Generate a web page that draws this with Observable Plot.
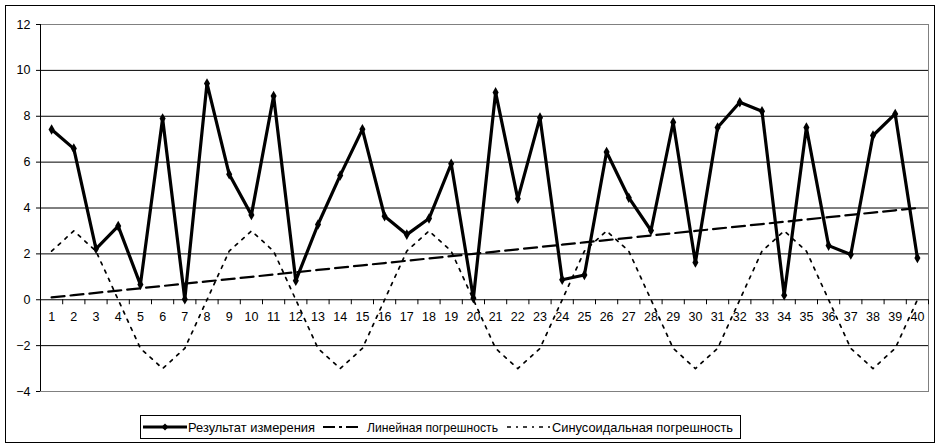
<!DOCTYPE html>
<html>
<head>
<meta charset="utf-8">
<script src="https://cdn.jsdelivr.net/npm/d3@7"></script>
<script src="https://cdn.jsdelivr.net/npm/@observablehq/plot@0.6"></script>
<style>
  html, body { margin: 0; padding: 0; background: #fff; }
  #wrap { position: relative; width: 941px; height: 448px; font-family: "Liberation Sans", Arial, sans-serif; }
  #chart { position: absolute; left: 0; top: 0; }
  #border { position: absolute; left: 5px; top: 5px; width: 930px; height: 438px; box-sizing: border-box; border: 1px solid #000; pointer-events: none; }
  #legend { position: absolute; left: 139px; top: 414px; }
</style>
</head>
<body>
<div id="wrap">
  <div id="chart"></div>
  <div id="border"></div>
  <div id="legend"></div>
</div>
<script>
const categories = [1,2,3,4,5,6,7,8,9,10,11,12,13,14,15,16,17,18,19,20,21,22,23,24,25,26,27,28,29,30,31,32,33,34,35,36,37,38,39,40];
const measured = [7.42,6.59,2.22,3.21,0.66,7.90,0.02,9.43,5.47,3.70,8.88,0.83,3.28,5.42,7.43,3.64,2.84,3.54,5.93,0.07,9.04,4.40,7.94,0.87,1.08,6.44,4.45,3.02,7.74,1.62,7.51,8.61,8.22,0.20,7.51,2.36,1.97,7.16,8.10,1.82];
const linearErr = [0.1,0.2,0.3,0.4,0.5,0.6,0.7,0.8,0.9,1.0,1.1,1.2,1.3,1.4,1.5,1.6,1.7,1.8,1.9,2.0,2.1,2.2,2.3,2.4,2.5,2.6,2.7,2.8,2.9,3.0,3.1,3.2,3.3,3.4,3.5,3.6,3.7,3.8,3.9,4.0];
const sineErr = [2.12,3,2.12,0,-2.12,-3,-2.12,0, 2.12,3,2.12,0,-2.12,-3,-2.12,0, 2.12,3,2.12,0,-2.12,-3,-2.12,0, 2.12,3,2.12,0,-2.12,-3,-2.12,0, 2.12,3,2.12,0,-2.12,-3,-2.12,0];
const yTicks = [-4,-2,0,2,4,6,8,10,12];
const seriesNames = ["Результат измерения", "Линейная погрешность", "Синусоидальная погрешность"];

const rows = (vals) => categories.map((c, i) => ({x: c, y: vals[i]}));
const gridVals = yTicks.filter(v => v !== yTicks[0] && v !== yTicks[yTicks.length - 1] && v !== 0);
const boundaries = categories.map(c => c + 0.5);

const chart = Plot.plot({
  width: 941,
  height: 405,
  marginLeft: 40,
  marginRight: 13,
  marginTop: 24,
  marginBottom: 14,
  style: { fontFamily: '"Liberation Sans", Arial, sans-serif', fontSize: "12px", color: "#000", background: "none" },
  x: { type: "linear", domain: [categories[0] - 0.5, categories[categories.length - 1] + 0.5], axis: null },
  y: { domain: [yTicks[0], yTicks[yTicks.length - 1]], axis: null },
  marks: [
    Plot.ruleY(gridVals, { stroke: "#000", strokeWidth: 1 }),
    Plot.frame({ stroke: "#808080", strokeWidth: 1 }),
    Plot.ruleY([0], { stroke: "#000", strokeWidth: 1 }),
    Plot.ruleX([categories[0] - 0.5], { stroke: "#000", strokeWidth: 1 }),
    Plot.axisY({ ticks: yTicks, label: null, tickSize: 4, tickPadding: 6, fontSize: 12.5, stroke: "#000", fill: "#000" }),
    Plot.ruleX(boundaries, { x: d => d, y1: () => 0, y2: () => 0, insetBottom: -5, stroke: "#000", strokeWidth: 1 }),
    Plot.text(categories, { x: d => d, y: () => 0, dy: 17, text: d => String(d), fontSize: 12.5, fill: "#000" }),
    Plot.line(rows(sineErr), { x: "x", y: "y", stroke: "#000", strokeWidth: 1.7, strokeDasharray: "3,6" }),
    Plot.line(rows(linearErr), { x: "x", y: "y", stroke: "#000", strokeWidth: 2.2, strokeDasharray: "13,6" }),
    Plot.line(rows(measured), { x: "x", y: "y", stroke: "#000", strokeWidth: 3.2 }),
    Plot.dot(rows(measured), { x: "x", y: "y", symbol: "diamond", r: 3.2, fill: "#000", stroke: "none" })
  ]
});
document.getElementById("chart").appendChild(chart);

// Legend
const ns = "http://www.w3.org/2000/svg";
const lg = document.createElementNS(ns, "svg");
lg.setAttribute("width", 604);
lg.setAttribute("height", 26);
lg.style.fontFamily = '"Liberation Sans", Arial, sans-serif';
lg.style.fontSize = "13px";
function el(tag, attrs, text) {
  const e = document.createElementNS(ns, tag);
  for (const k in attrs) e.setAttribute(k, attrs[k]);
  if (text != null) e.textContent = text;
  lg.appendChild(e);
  return e;
}
el("rect", { x: 1.5, y: 1.5, width: 600, height: 23, fill: "#fff", stroke: "#000", "stroke-width": 1 });
const ly = 13;
// measurement sample
el("line", { x1: 4, x2: 48, y1: ly, y2: ly, stroke: "#000", "stroke-width": 3 });
el("path", { d: `M26,${ly-3.5}L29.5,${ly}L26,${ly+3.5}L22.5,${ly}Z`, fill: "#000" });
el("text", { x: 49, y: ly + 4.6, fill: "#000", textLength: 127, lengthAdjust: "spacingAndGlyphs" }, seriesNames[0]);
// linear sample
el("line", { x1: 184, x2: 220, y1: ly, y2: ly, stroke: "#000", "stroke-width": 2.2, "stroke-dasharray": "12,4,3,4" });
el("text", { x: 228, y: ly + 4.6, fill: "#000", textLength: 131, lengthAdjust: "spacingAndGlyphs" }, seriesNames[1]);
// sine sample
el("line", { x1: 368, x2: 412, y1: ly, y2: ly, stroke: "#000", "stroke-width": 1.6, "stroke-dasharray": "4,5,2,5" });
el("text", { x: 413, y: ly + 4.6, fill: "#000", textLength: 181, lengthAdjust: "spacingAndGlyphs" }, seriesNames[2]);
document.getElementById("legend").appendChild(lg);
</script>
</body>
</html>
